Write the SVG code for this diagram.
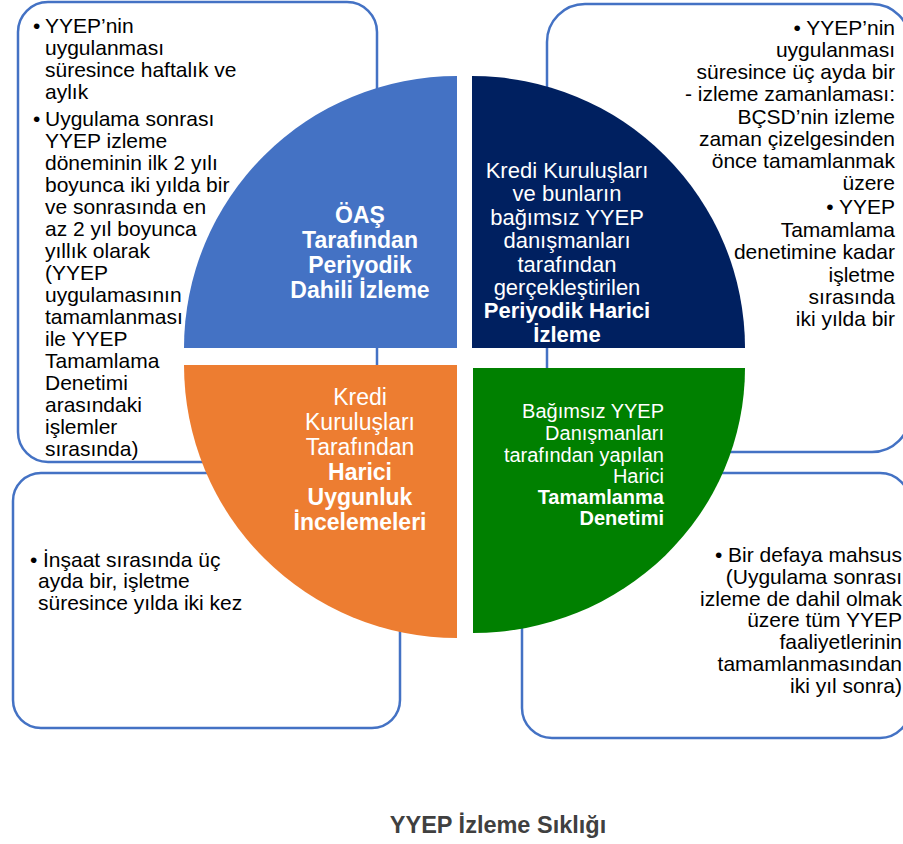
<svg xmlns="http://www.w3.org/2000/svg" width="903" height="844" viewBox="0 0 903 844">
<style>
.box{fill:#fff;stroke:#4472C4;stroke-width:2.5}
.t{font-family:"Liberation Sans",Arial,sans-serif;font-size:21px;fill:#000}
.q{font-family:"Liberation Sans",Arial,sans-serif;fill:#fff}
.b{font-weight:bold}
.end{text-anchor:end}
.mid{text-anchor:middle}
</style>
<rect width="903" height="844" fill="#fff"/>
<g id="connectors"/>
<g id="box-top-left">
<rect class="box" x="18" y="2" width="359" height="460" rx="30"/>
<text class="t"><tspan x="33" y="33">•</tspan><tspan x="45" y="33">YYEP’nin</tspan><tspan x="45" y="55">uygulanması</tspan><tspan x="45" y="77">süresince haftalık ve</tspan><tspan x="45" y="99">aylık</tspan><tspan x="33" y="126">•</tspan><tspan x="45" y="126">Uygulama sonrası</tspan><tspan x="45" y="148">YYEP izleme</tspan><tspan x="45" y="170">döneminin ilk 2 yılı</tspan><tspan x="45" y="192">boyunca iki yılda bir</tspan><tspan x="45" y="214">ve sonrasında en</tspan><tspan x="45" y="236">az 2 yıl boyunca</tspan><tspan x="45" y="258">yıllık olarak</tspan><tspan x="45" y="280">(YYEP</tspan><tspan x="45" y="302">uygulamasının</tspan><tspan x="45" y="324">tamamlanması</tspan><tspan x="45" y="346">ile YYEP</tspan><tspan x="45" y="368">Tamamlama</tspan><tspan x="45" y="390">Denetimi</tspan><tspan x="45" y="412">arasındaki</tspan><tspan x="45" y="434">işlemler</tspan><tspan x="45" y="456">sırasında)</tspan></text>
</g>
<g id="box-top-right">
<rect class="box" x="547" y="4" width="363" height="448" rx="38"/>
<text class="t end"><tspan x="895" y="35">• YYEP’nin</tspan><tspan x="895" y="57">uygulanması</tspan><tspan x="895" y="79">süresince üç ayda bir</tspan><tspan x="895" y="101">- izleme zamanlaması:</tspan><tspan x="895" y="124">BÇSD’nin izleme</tspan><tspan x="895" y="146">zaman çizelgesinden</tspan><tspan x="895" y="168">önce tamamlanmak</tspan><tspan x="895" y="190">üzere</tspan><tspan x="895" y="214">• YYEP</tspan><tspan x="895" y="237">Tamamlama</tspan><tspan x="895" y="259">denetimine kadar</tspan><tspan x="895" y="282">işletme</tspan><tspan x="895" y="304">sırasında</tspan><tspan x="895" y="326">iki yılda bir</tspan></text>
</g>
<g id="box-bottom-left">
<rect class="box" x="13" y="473" width="387" height="255" rx="28"/>
<text class="t"><tspan x="30" y="567">•</tspan><tspan x="43" y="567">İnşaat sırasında üç</tspan><tspan x="38" y="588">ayda bir, işletme</tspan><tspan x="38" y="610">süresince yılda iki kez</tspan></text>
</g>
<g id="box-bottom-right">
<rect class="box" x="522" y="473" width="388" height="265" rx="30"/>
<text class="t end"><tspan x="902" y="562">• Bir defaya mahsus</tspan><tspan x="902" y="584">(Uygulama sonrası</tspan><tspan x="902" y="606">izleme de dahil olmak</tspan><tspan x="902" y="627">üzere tüm YYEP</tspan><tspan x="902" y="649">faaliyetlerinin</tspan><tspan x="902" y="671">tamamlanmasından</tspan><tspan x="902" y="693">iki yıl sonra)</tspan></text>
</g>
<g id="q-internal">
<path d="M457 348 L184 348 A273 272 0 0 1 457 76 Z" fill="#4472C4"/>
<text class="q b mid" font-size="23"><tspan x="360" y="223">ÖAŞ</tspan><tspan x="360" y="248">Tarafından</tspan><tspan x="360" y="273">Periyodik</tspan><tspan x="360" y="298">Dahili İzleme</tspan></text>
</g>
<g id="q-external">
<path d="M472 348 L472 76 A273 272 0 0 1 745 348 Z" fill="#002060"/>
<text class="q mid" font-size="22"><tspan x="567" y="178">Kredi Kuruluşları</tspan><tspan x="567" y="201">ve bunların</tspan><tspan x="567" y="225">bağımsız YYEP</tspan><tspan x="567" y="248">danışmanları</tspan><tspan x="567" y="272">tarafından</tspan><tspan x="567" y="295">gerçekleştirilen</tspan><tspan x="567" y="318" font-weight="bold">Periyodik Harici</tspan><tspan x="567" y="342" font-weight="bold">İzleme</tspan></text>
</g>
<g id="q-compliance">
<path d="M457 365 L457 638 A273 273 0 0 1 184 365 Z" fill="#ED7D31"/>
<text class="q mid" font-size="23"><tspan x="360" y="405">Kredi</tspan><tspan x="360" y="430">Kuruluşları</tspan><tspan x="360" y="455">Tarafından</tspan><tspan x="360" y="480" font-weight="bold">Harici</tspan><tspan x="360" y="505" font-weight="bold">Uygunluk</tspan><tspan x="360" y="530" font-weight="bold">İncelemeleri</tspan></text>
</g>
<g id="q-completion">
<path d="M473 368 L745 368 A272 265 0 0 1 473 633 Z" fill="#008000"/>
<text class="q end" font-size="20"><tspan x="664" y="418">Bağımsız YYEP</tspan><tspan x="664" y="440">Danışmanları</tspan><tspan x="664" y="462">tarafından yapılan</tspan><tspan x="664" y="483">Harici</tspan><tspan x="664" y="504" font-weight="bold">Tamamlanma</tspan><tspan x="664" y="525" font-weight="bold">Denetimi</tspan></text>
</g>
<g id="caption">
<text x="498" y="833" font-family="Liberation Sans, Arial, sans-serif" font-size="23.5" font-weight="bold" fill="#404040" text-anchor="middle">YYEP İzleme Sıklığı</text>
</g>
</svg>
